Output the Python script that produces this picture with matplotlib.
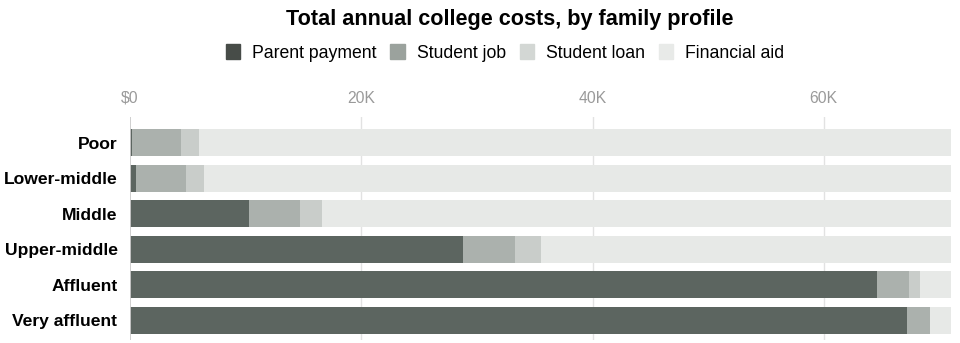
import matplotlib.pyplot as plt
from matplotlib.patches import Patch

# family profiles, top to bottom
profiles = ["Poor", "Lower-middle", "Middle", "Upper-middle", "Affluent", "Very affluent"]

# annual costs in thousands of dollars
parent_payment = [0.2, 0.5, 10.3, 28.8, 64.6, 67.2]
student_job = [4.2, 4.3, 4.4, 4.5, 2.8, 2.0]
student_loan = [1.6, 1.6, 1.9, 2.2, 0.9, 0.0]
financial_aid = [65.0, 64.6, 54.4, 35.5, 2.7, 1.8]

series_names = ["Parent payment", "Student job", "Student loan", "Financial aid"]
bar_colors = ["#5c6560", "#abb1ad", "#c9cdca", "#e7e9e7"]
legend_colors = ["#474c48", "#9ba29d", "#d3d7d4", "#e8eae8"]

xticks = [0, 20, 40, 60]
xtick_labels = ["$0", "20K", "40K", "60K"]

plt.rcParams["font.family"] = ["Liberation Sans", "DejaVu Sans"]

fig = plt.figure(figsize=(9.6, 3.43), dpi=100)
ax = fig.add_axes([130 / 960, 3 / 343, 821 / 960, 223 / 343])

y = list(range(len(profiles)))
left = [0.0] * len(profiles)
for vals, col, name in zip([parent_payment, student_job, student_loan, financial_aid],
                           bar_colors, series_names):
    ax.barh(y, vals, left=left, height=0.76, color=col, label=name, zorder=2)
    left = [a + b for a, b in zip(left, vals)]

ax.set_xlim(0, 71)
ax.set_ylim(5.56, -0.72)
ax.set_xticks(xticks)
ax.set_xticklabels(xtick_labels, fontsize=11.3, color="#9a9a9a")
ax.xaxis.tick_top()
ax.tick_params(axis="x", length=0, pad=8)
ax.set_yticks(y)
ax.set_yticklabels(profiles, fontsize=12.6, fontweight="bold", color="#000000")
ax.tick_params(axis="y", length=0, pad=9)
for s in ax.spines.values():
    s.set_visible(False)
for t in xticks[1:]:
    ax.axvline(t, color="#e2e2e2", lw=1, zorder=1)
ax.axvline(0, color="#cccccc", lw=1.3, zorder=3)

fig.text(0.531, 0.942, "Total annual college costs, by family profile", ha="center", va="center",
         fontsize=15.6, fontweight="bold", color="#000000")

handles = [Patch(color=c) for c in legend_colors]
fig.legend(handles, series_names, loc="center", bbox_to_anchor=(0.526, 0.845), ncol=4,
           frameon=False, handlelength=0.8, handleheight=0.9, handletextpad=0.68,
           columnspacing=0.8, borderpad=0, prop={"size": 12.7})

fig.savefig("out.png", dpi=100)
